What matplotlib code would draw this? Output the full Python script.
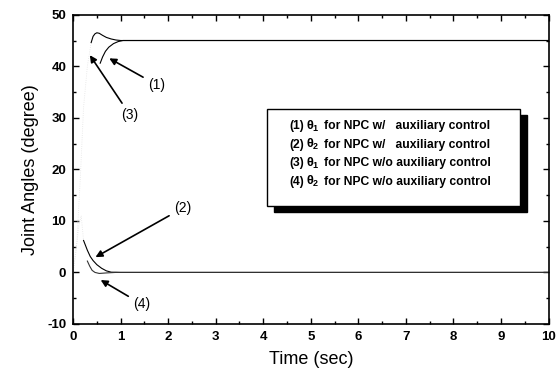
import numpy as np
import matplotlib
matplotlib.use("Agg")
import matplotlib.pyplot as plt

plt.rcParams['font.family'] = ['Liberation Sans', 'DejaVu Sans']
plt.rcParams['mathtext.fontset'] = 'custom'
plt.rcParams['mathtext.rm'] = 'Liberation Sans:bold'
plt.rcParams['mathtext.it'] = 'Liberation Sans:bold'
plt.rcParams['mathtext.bf'] = 'Liberation Sans:bold'
plt.rcParams['axes.unicode_minus'] = False

# faint start-up portions (barely visible in the scan)
t_rise1 = [0.0, 0.08, 0.15, 0.22, 0.3, 0.38]
th1_rise = [0.0, 6.0, 18.0, 32.0, 40.0, 44.6]
t_rise2 = [0.0, 0.06, 0.12, 0.17, 0.22]
th2_rise = [0.0, 4.0, 9.0, 11.0, 6.2]

# (1) theta1 for NPC w/ auxiliary control
t_1 = [0.57, 0.62, 0.68, 0.75, 0.85, 0.95, 1.05, 1.2, 10.0]
th_1 = [40.6, 41.8, 42.9, 43.7, 44.4, 44.8, 45.0, 45.0, 45.0]
# (2) theta2 for NPC w/ auxiliary control
t_2 = [0.22, 0.3, 0.36, 0.42, 0.5, 0.6, 0.7, 0.8, 1.0, 10.0]
th_2 = [6.2, 4.3, 3.1, 2.3, 1.5, 0.8, 0.3, 0.05, 0.0, 0.0]
# (3) theta1 for NPC w/o auxiliary control
t_3 = [0.38, 0.42, 0.46, 0.5, 0.55, 0.62, 0.7, 0.8, 0.9, 1.0, 10.0]
th_3 = [44.6, 45.8, 46.3, 46.5, 46.4, 46.0, 45.6, 45.3, 45.1, 45.0, 45.0]
# (4) theta2 for NPC w/o auxiliary control
t_4 = [0.3, 0.35, 0.4, 0.46, 0.55, 0.7, 0.9, 10.0]
th_4 = [2.2, 1.2, 0.4, 0.0, -0.2, -0.1, 0.0, 0.0]

legend_rows = [
    ("(1)", r"$\theta_1$", "for NPC w/   auxiliary control"),
    ("(2)", r"$\theta_2$", "for NPC w/   auxiliary control"),
    ("(3)", r"$\theta_1$", "for NPC w/o auxiliary control"),
    ("(4)", r"$\theta_2$", "for NPC w/o auxiliary control"),
]

fig = plt.figure(figsize=(5.58, 3.78), dpi=100)
ax = fig.add_axes([0.131, 0.143, 0.852, 0.818])

ax.plot(t_rise1, th1_rise, color='#e4e4e4', lw=0.6, ls=':')
ax.plot(t_rise2, th2_rise, color='#e4e4e4', lw=0.6, ls=':')
ax.plot(t_1, th_1, color='black', lw=0.8)
ax.plot(t_2, th_2, color='black', lw=0.8)
ax.plot(t_3, th_3, color='black', lw=0.8)
ax.plot(t_4, th_4, color='#333333', lw=0.8)

ax.set_xlim(0, 10)
ax.set_ylim(-10, 50)
ax.set_xticks(np.arange(0, 11, 1))
ax.set_xticks(np.arange(0, 10.5, 0.5), minor=True)
ax.set_yticks(np.arange(-10, 51, 10))
ax.set_yticks(np.arange(-10, 51, 5), minor=True)
ax.tick_params(which='both', direction='in', top=True, right=True, width=1.0)
ax.tick_params(which='major', length=4, labelsize=9.5, pad=5)
ax.tick_params(which='minor', length=2)
for lab in ax.get_xticklabels() + ax.get_yticklabels():
    lab.set_fontweight('bold')
for s in ax.spines.values():
    s.set_linewidth(1.2)

ax.set_xlabel("Time (sec)", fontsize=13, labelpad=6)
ax.set_ylabel("Joint Angles (degree)", fontsize=13, labelpad=6)

arrow = dict(arrowstyle='-|>', color='black', lw=1.2, mutation_scale=10)
ax.annotate("(1)", xy=(0.71, 41.8), xytext=(1.76, 36.4), fontsize=10,
            ha='center', va='center', arrowprops=arrow)
ax.annotate("(3)", xy=(0.32, 42.6), xytext=(1.2, 30.5), fontsize=10,
            ha='center', va='center', arrowprops=arrow)
ax.annotate("(2)", xy=(0.42, 2.7), xytext=(2.31, 12.5), fontsize=10,
            ha='center', va='center', arrowprops=arrow)
ax.annotate("(4)", xy=(0.53, -1.2), xytext=(1.45, -6.2), fontsize=10,
            ha='center', va='center', arrowprops=arrow)

# legend box with drop shadow (axes coordinates)
x0, y0, w, h = 0.408, 0.381, 0.531, 0.314
ax.add_patch(plt.Rectangle((x0 + 0.0147, y0 - 0.019), w, h, transform=ax.transAxes,
                           facecolor='black', edgecolor='black', zorder=4))
ax.add_patch(plt.Rectangle((x0, y0), w, h, transform=ax.transAxes,
                           facecolor='white', edgecolor='black', lw=1.0, zorder=5))
for i, (num, th, rest) in enumerate(legend_rows):
    yy = 0.639 - i * 0.0595
    ax.text(x0 + 0.046, yy, num, transform=ax.transAxes, fontsize=8.7,
            fontweight='bold', va='center', zorder=6)
    ax.text(x0 + 0.082, yy, th, transform=ax.transAxes, fontsize=9.2,
            va='center', zorder=6)
    ax.text(x0 + 0.119, yy, rest, transform=ax.transAxes, fontsize=8.7,
            fontweight='bold', va='center', zorder=6)

fig.savefig("out.png", dpi=100)
